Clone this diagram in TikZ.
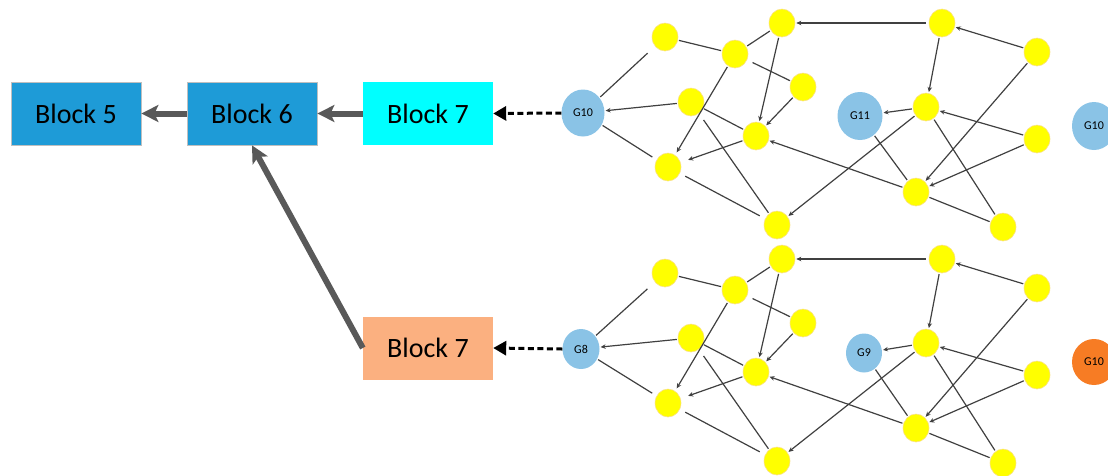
\documentclass[tikz,border=0pt]{standalone}
\usepackage{fontspec}
\setmainfont{Carlito}
\usetikzlibrary{arrows.meta,shapes.geometric}
\definecolor{blockblue}{RGB}{30,155,215}
\definecolor{blockcyan}{RGB}{0,255,255}
\definecolor{blockorange}{RGB}{251,176,128}
\definecolor{gblue}{RGB}{138,195,230}
\definecolor{gorange}{RGB}{247,124,36}
\definecolor{ynode}{RGB}{255,255,0}
\definecolor{yborder}{RGB}{250,225,140}
\definecolor{thickgray}{RGB}{89,89,89}
\definecolor{edgegray}{RGB}{64,64,64}
\tikzset{
  block/.style={rectangle, minimum width=130pt, minimum height=63pt, inner sep=0pt,
    font=\fontsize{28}{30}\selectfont},
  yel/.style={ellipse, fill=ynode, draw=yborder, line width=0.6pt,
    minimum width=26pt, minimum height=28pt, inner sep=0pt},
  gnode/.style={ellipse, fill=gblue, inner sep=0pt, font=\fontsize{12}{12}\selectfont},
  bignode/.style={gnode, minimum width=43pt, minimum height=47pt},
  smallnode/.style={gnode, minimum width=37pt, minimum height=40pt},
  edge/.style={draw=edgegray, line width=1.2pt, shorten <=1pt, shorten >=1pt},
  ar/.style={edge, -{Stealth[length=5pt,width=4.5pt]}},
  fat/.style={draw=thickgray, line width=6pt, -{Stealth[length=17pt,width=17pt,inset=4pt]}},
  dasharrow/.style={draw=black, line width=3pt, dash pattern=on 6pt off 3.5pt,
    -{Triangle[length=13pt,width=14pt]}}
}
\newcommand{\ynodes}[1]{%
  \node[yel] (#1y1) at (665,37) {};
  \node[yel] (#1y2) at (735,54) {};
  \node[yel] (#1y3) at (782,23) {};
  \node[yel] (#1y4) at (803,87) {};
  \node[yel] (#1y5) at (691,102) {};
  \node[yel] (#1y6) at (756,136) {};
  \node[yel] (#1y7) at (668,167) {};
  \node[yel] (#1y8) at (777,225) {};
  \node[yel] (#1y9) at (942,23) {};
  \node[yel] (#1y10) at (1037,52) {};
  \node[yel] (#1y11) at (926,107) {};
  \node[yel] (#1y12) at (1037,139) {};
  \node[yel] (#1y13) at (916,192) {};
  \node[yel] (#1y14) at (1003,227) {};
}
\newcommand{\gedges}[1]{%
  \draw[edge, shorten <=10pt] (#1y1) -- (#1ga);
  \draw[ar] (#1y5) -- (#1ga);
  \draw[edge, shorten >=5pt] (#1ga) -- (#1y7);
  \draw[edge] (#1y1) -- (#1y2);
  \draw[edge] (#1y2) -- (#1y3);
  \draw[ar, shorten <=3pt] (#1y9) -- (#1y3);
  \draw[edge, shorten <=6pt] (#1y2) -- (#1y4);
  \draw[ar, shorten >=3pt] (#1y2) -- (#1y7);
  \draw[ar] (#1y3) -- (#1y6);
  \draw[ar] (#1y4) -- (#1y6);
  \draw[edge] (#1y5) -- (#1y6);
  \draw[ar, shorten >=8pt] (#1y6) -- (#1y7);
  \draw[edge, shorten <=8pt] (#1y5) -- (#1y8);
  \draw[edge, shorten <=6pt, shorten >=6pt] (#1y7) -- (#1y8);
  \draw[ar] (#1y13) -- (#1y6);
  \draw[ar] (#1y11) -- (#1y8);
  \draw[ar] (#1y9) -- (#1y11);
  \draw[ar] (#1y10) -- (#1y9);
  \draw[ar] (#1y11) -- (#1gb);
  \draw[ar] (#1y12) -- (#1y11);
  \draw[edge] (#1y11) -- (#1y14);
  \draw[ar] (#1y10) -- (#1y13);
  \draw[ar] (#1y12) -- (#1y13);
  \draw[edge] (#1gb) -- (#1y13);
  \draw[edge] (#1y13) -- (#1y14);
}
\begin{document}
\begin{tikzpicture}[x=1pt, y=-1pt]
\useasboundingbox (0,0) rectangle (1108,475);

% blocks
\node[block, fill=blockblue, draw=black!25, line width=0.8pt] (b5) at (76,113.5) {Block 5};
\node[block, fill=blockblue, draw=black!25, line width=0.8pt] (b6) at (252,113.5) {Block 6};
\node[block, fill=blockcyan] (b7a) at (428,113.5) {Block 7};
\node[block, fill=blockorange] (b7b) at (428,348) {Block 7};

% top graph
\node[bignode] (tga) at (583,113) {G10};
\node[bignode, minimum width=45pt, minimum height=48pt] (tgb) at (860,116) {G11};
\node[bignode, minimum width=44pt, minimum height=48pt] (tgc) at (1094,126) {G10};
\ynodes{t}
\gedges{t}

% bottom graph
\begin{scope}[yshift=-236pt]
\node[smallnode] (bga) at (581,113) {G8};
\node[smallnode, minimum width=36pt, minimum height=39pt] (bgb) at (864,117) {G9};
\node[bignode, fill=gorange, minimum width=44pt, minimum height=46pt] (bgc) at (1094,126) {G10};
\ynodes{b}
\gedges{b}
\end{scope}

% block arrows
\draw[fat] (b6.west) -- (b5.east);
\draw[fat] (b7a.west) -- (b6.east);
\draw[fat] (b7b.west) -- (b6.south);

% dashed arrows
\draw[dasharrow] (tga.west) -- (b7a.east);
\draw[dasharrow] (bga.west) -- (b7b.east);
\end{tikzpicture}
\end{document}
